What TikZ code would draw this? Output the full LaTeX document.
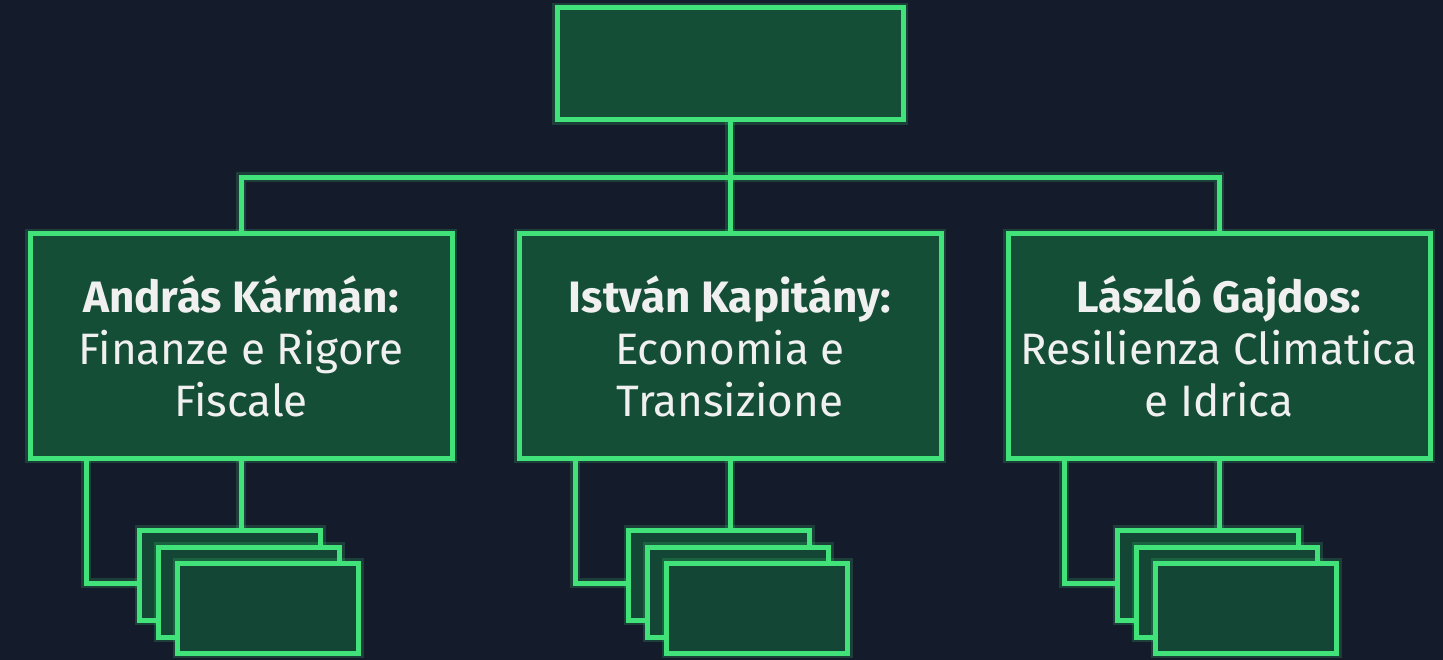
\documentclass[tikz,border=0pt]{standalone}
\usepackage{fontspec}
\setmainfont{Fira Sans}
\usetikzlibrary{calc}
\usetikzlibrary{positioning}
\definecolor{hintergrund}{HTML}{141C2B}
\definecolor{kastengruen}{HTML}{154E37}
\definecolor{kartengruen}{HTML}{134634}
\definecolor{liniengruen}{HTML}{42E27B}
\tikzset{
    %Leuchten um die Linien
    leuchten/.style={
           preaction={draw=liniengruen, line width=10pt, opacity=0.18}},
    %Style fuer die grossen Kaesten
    kasten/.style={
           rectangle,
           leuchten,
           draw=liniengruen, line width=5pt,
           fill=kastengruen,
           text=white!94!black,
           minimum width=422pt,
           minimum height=224pt,
           align=center,
           font=\fontsize{44}{52}\selectfont},
    % Style fuer die kleinen Karten
    karte/.style={
           rectangle,
           leuchten,
           draw=liniengruen, line width=5pt,
           fill=kartengruen,
           minimum width=181pt,
           minimum height=90pt},
    % Style fuer die Verbindungen
    linie/.style={
           leuchten,
           draw=liniengruen,
           line width=5pt},
}

\begin{document}
\begin{tikzpicture}[x=1pt,y=-1pt]
\newcommand{\versatz}{19}
% Hintergrund
\fill[hintergrund] (0,0) rectangle (1443,660);
\useasboundingbox (0,0) rectangle (1443,660);

% Oberer Kasten (leer)
\node[kasten, minimum width=346pt, minimum height=112pt] (chef) at (730,64) {};

% Mittlere Kaesten
\node[kasten] (links) at (241,346) {\textbf{András Kármán:}\\Finanze e Rigore\\Fiscale};
\node[kasten] (mitte) at (730,346) {\textbf{István Kapitány:}\\Economia e\\Transizione};
\node[kasten] (rechts) at (1219,346) {\textbf{László Gajdos:}\\Resilienza Climatica\\e Idrica};

% Karten unten links
\node[karte] (linksEins) at (230,575) {};
\node[karte] (linksZwei) at ($ (linksEins) + (\versatz,17) $) {};
\node[karte] (linksDrei) at ($ (linksZwei) + (\versatz,16) $) {};

% Karten unten Mitte
\node[karte] (mitteEins) at (719,575) {};
\node[karte] (mitteZwei) at ($ (mitteEins) + (\versatz,17) $) {};
\node[karte] (mitteDrei) at ($ (mitteZwei) + (\versatz,16) $) {};

% Karten unten rechts
\node[karte] (rechtsEins) at (1208,575) {};
\node[karte] (rechtsZwei) at ($ (rechtsEins) + (\versatz,17) $) {};
\node[karte] (rechtsDrei) at ($ (rechtsZwei) + (\versatz,16) $) {};

% Verbindungen oben
\coordinate (bus) at ($ (chef.south) + (0,55) $);
\draw[linie] (chef.south) -- (mitte.north);
\draw[linie] (links.north) |- (bus) -| (rechts.north);

% Verbindungen unten
\draw[linie] (links.south) -- (links.south |- linksEins.north);
\draw[linie] ($ (links.south) + (-155,0) $) |- ($ (linksEins.west) + (0,8) $);
\draw[linie] (mitte.south) -- (mitte.south |- mitteEins.north);
\draw[linie] ($ (mitte.south) + (-155,0) $) |- ($ (mitteEins.west) + (0,8) $);
\draw[linie] (rechts.south) -- (rechts.south |- rechtsEins.north);
\draw[linie] ($ (rechts.south) + (-155,0) $) |- ($ (rechtsEins.west) + (0,8) $);
\end{tikzpicture}
\end{document}
